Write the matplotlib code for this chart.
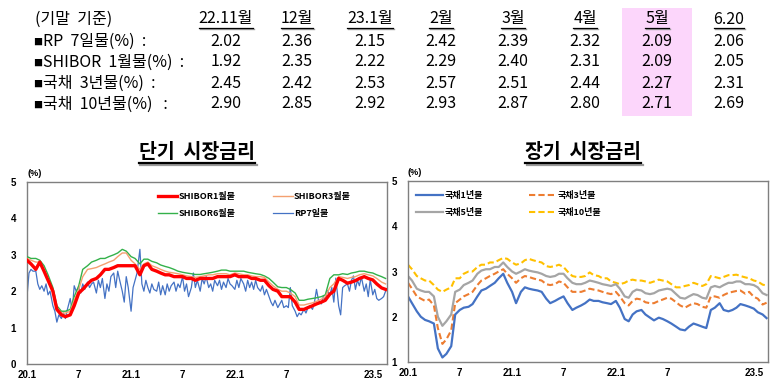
import matplotlib
matplotlib.use('Agg')
import matplotlib.pyplot as plt
from matplotlib.lines import Line2D
from matplotlib.patches import Rectangle
import pandas as pd

KFONT = ['Noto Sans CJK KR', 'DejaVu Sans']

# ----------------------------------------------------------------------------
# table data
# ----------------------------------------------------------------------------
col_labels = ['22.11월', '12월', '23.1월', '2월', '3월', '4월', '5월', '6.20']
row_labels = ['RP  7일물(%)  :', 'SHIBOR  1월물(%)  :', '국채  3년물(%)  :', '국채  10년물(%)   :']
table_vals = [
    ['2.02', '2.36', '2.15', '2.42', '2.39', '2.32', '2.09', '2.06'],
    ['1.92', '2.35', '2.22', '2.29', '2.40', '2.31', '2.09', '2.05'],
    ['2.45', '2.42', '2.53', '2.57', '2.51', '2.44', '2.27', '2.31'],
    ['2.90', '2.85', '2.92', '2.93', '2.87', '2.80', '2.71', '2.69'],
]

# ----------------------------------------------------------------------------
# chart data (semi-monthly, 1st and 15th, 2020.1 ~ 2023.6)
# ----------------------------------------------------------------------------
semi_dates = pd.date_range('2020-01-01', periods=84, freq='SMS')

shibor1m = [2.85, 2.75, 2.6, 2.8, 2.55, 2.3, 2.0, 1.5, 1.35, 1.3, 1.35, 1.6,
            1.95, 2.05, 2.2, 2.3, 2.35, 2.45, 2.6, 2.6, 2.65, 2.7, 2.7, 2.7,
            2.7, 2.7, 2.45, 2.7, 2.75, 2.6, 2.55, 2.5, 2.45, 2.45, 2.4, 2.4,
            2.4, 2.35, 2.35, 2.3, 2.35, 2.35, 2.35, 2.35, 2.4, 2.4, 2.4, 2.4,
            2.45, 2.4, 2.4, 2.4, 2.35, 2.35, 2.3, 2.3, 2.15, 2.05, 2.0, 1.85,
            1.85, 1.85, 1.7, 1.5, 1.5, 1.55, 1.6, 1.65, 1.7, 1.75, 1.92, 2.0,
            2.35, 2.3, 2.22, 2.25, 2.29, 2.35, 2.40, 2.35, 2.31, 2.2, 2.09, 2.05]
shibor3m = [2.9, 2.85, 2.8, 2.8, 2.6, 2.35, 2.0, 1.55, 1.4, 1.4, 1.45, 1.75,
            2.05, 2.4, 2.6, 2.62, 2.65, 2.7, 2.75, 2.8, 2.85, 2.95, 3.05, 3.05,
            2.85, 2.75, 2.6, 2.75, 2.8, 2.7, 2.65, 2.6, 2.55, 2.52, 2.5, 2.48,
            2.45, 2.42, 2.4, 2.38, 2.4, 2.42, 2.45, 2.45, 2.48, 2.48, 2.48, 2.45,
            2.5, 2.48, 2.45, 2.45, 2.42, 2.4, 2.4, 2.38, 2.25, 2.15, 2.05, 2.0,
            2.0, 1.95, 1.85, 1.62, 1.62, 1.65, 1.68, 1.72, 1.78, 1.85, 2.1, 2.2,
            2.4, 2.38, 2.35, 2.38, 2.4, 2.45, 2.48, 2.45, 2.42, 2.35, 2.25, 2.2]
shibor6m = [2.95, 2.9, 2.9, 2.85, 2.7, 2.45, 2.1, 1.6, 1.45, 1.45, 1.5, 1.85,
            2.15, 2.6, 2.7, 2.8, 2.85, 2.9, 2.9, 2.95, 3.0, 3.05, 3.15, 3.1,
            2.95, 2.9, 2.75, 2.88, 2.88, 2.82, 2.78, 2.72, 2.68, 2.65, 2.6, 2.55,
            2.52, 2.5, 2.48, 2.46, 2.46, 2.48, 2.5, 2.52, 2.55, 2.58, 2.58, 2.55,
            2.55, 2.55, 2.55, 2.52, 2.5, 2.48, 2.46, 2.42, 2.35, 2.25, 2.12, 2.1,
            2.1, 2.05, 1.95, 1.75, 1.75, 1.78, 1.8, 1.82, 1.85, 1.9, 2.35, 2.45,
            2.45, 2.48, 2.46, 2.5, 2.52, 2.55, 2.55, 2.52, 2.5, 2.45, 2.4, 2.35]

# RP 7-day: 1st, 8th, 15th, 22nd of each month
rp_dates = [pd.Timestamp(y, m, d) for y in range(2020, 2024) for m in range(1, 13)
            for d in (1, 8, 15, 22) if pd.Timestamp(y, m, d) <= pd.Timestamp('2023-06-20')]
rp7d = [1.85, 2.5, 2.6, 2.55, 2.55, 2.2, 2.05, 2.15, 2.0, 2.2, 1.9, 2.0,
        1.6, 1.45, 1.15, 1.35, 1.25, 1.4, 1.25, 1.5, 1.8, 1.45, 2.15, 2.0,
        2.1, 1.95, 2.2, 2.05, 2.25, 2.1, 2.2, 2.25, 1.95, 2.3, 2.1, 2.35,
        1.8, 2.2, 2.0, 2.4, 2.5, 2.1, 2.55, 2.3, 2.0, 1.7, 2.4, 2.1,
        1.45, 2.1, 2.3, 2.5, 3.15, 2.2, 2.0, 2.3, 2.1, 1.95, 2.2, 2.05,
        2.0, 2.25, 1.9, 2.15, 1.9, 2.2, 2.0, 2.15, 2.25, 2.0, 2.2, 2.1,
        2.4, 2.0, 2.2, 1.85, 2.1, 2.5, 2.1, 2.3, 2.0, 2.35, 2.2, 2.4,
        2.1, 2.2, 2.0, 2.3, 2.15, 2.3, 2.05, 2.25, 2.1, 2.35, 2.2, 2.15,
        2.05, 2.3, 2.1, 2.35, 2.2, 2.0, 2.3, 2.1, 2.25, 2.05, 2.3, 2.1,
        2.0, 2.15, 1.9, 2.05, 1.85, 1.7, 1.6, 1.75, 1.55, 1.65, 1.75, 1.55,
        1.6, 1.55, 2.1, 1.6, 1.45, 1.3, 1.4, 1.35, 1.5, 1.4, 1.55, 1.6,
        1.5, 1.7, 2.05, 1.75, 1.65, 1.85, 1.75, 2.02, 1.9, 2.1, 1.7, 2.36,
        1.6, 1.35, 2.1, 2.15, 2.2, 2.0, 2.3, 2.42, 2.05, 2.3, 2.15, 2.39,
        2.0, 2.2, 1.85, 2.32, 1.9, 2.05, 1.8, 1.75, 1.8, 1.85, 2.0]

ktb1y = [2.45, 2.3, 2.12, 2.0, 1.93, 1.9, 1.85, 1.3, 1.1, 1.18, 1.35, 2.05,
         2.15, 2.2, 2.22, 2.28, 2.45, 2.58, 2.62, 2.68, 2.75, 2.85, 2.95, 2.75,
         2.55, 2.3, 2.55, 2.65, 2.62, 2.6, 2.58, 2.55, 2.4, 2.3, 2.35, 2.4,
         2.45, 2.3, 2.15, 2.2, 2.25, 2.3, 2.38, 2.35, 2.35, 2.32, 2.3, 2.28,
         2.35, 2.2, 1.95, 1.9, 2.05, 2.12, 2.15, 2.05, 1.98, 1.92, 1.98, 1.95,
         1.9, 1.85, 1.78, 1.72, 1.7, 1.78, 1.85, 1.82, 1.78, 1.75, 2.15, 2.2,
         2.3, 2.15, 2.12, 2.15, 2.2, 2.28, 2.25, 2.22, 2.18, 2.1, 2.05, 1.97]
ktb3y = [2.75, 2.62, 2.45, 2.4, 2.35, 2.38, 2.25, 1.75, 1.4, 1.5, 1.7, 2.3,
         2.38, 2.45, 2.5, 2.55, 2.7, 2.8, 2.85, 2.9, 2.95, 3.0, 3.05, 2.95,
         2.85, 2.75, 2.85, 2.9, 2.88, 2.85, 2.82, 2.8, 2.72, 2.7, 2.72, 2.78,
         2.75, 2.65, 2.55, 2.55, 2.55, 2.58, 2.62, 2.6, 2.58, 2.55, 2.52, 2.5,
         2.55, 2.45, 2.3, 2.25, 2.35, 2.4, 2.38, 2.32, 2.3, 2.3, 2.35, 2.38,
         2.42, 2.4, 2.32, 2.25, 2.2, 2.25, 2.3, 2.28, 2.22, 2.2, 2.45, 2.45,
         2.42, 2.48, 2.53, 2.55, 2.57, 2.58, 2.51, 2.55, 2.44, 2.4, 2.27, 2.31]
ktb5y = [2.9, 2.8, 2.62, 2.58, 2.55, 2.55, 2.45, 2.0, 1.8, 1.9, 2.05, 2.55,
         2.6, 2.7, 2.75, 2.8, 2.95, 3.02, 3.05, 3.05, 3.1, 3.1, 3.2, 3.1,
         3.0, 2.95, 3.0, 3.05, 3.02, 3.0, 2.98, 2.95, 2.9, 2.88, 2.9, 2.95,
         2.95, 2.85, 2.75, 2.72, 2.72, 2.75, 2.8, 2.78, 2.75, 2.72, 2.7, 2.68,
         2.72, 2.62, 2.45, 2.42, 2.55, 2.6, 2.58, 2.52, 2.5, 2.52, 2.58, 2.6,
         2.62, 2.6, 2.5, 2.42, 2.4, 2.45, 2.5, 2.48, 2.42, 2.4, 2.65, 2.68,
         2.65, 2.7, 2.75, 2.75, 2.78, 2.78, 2.72, 2.72, 2.7, 2.65, 2.52, 2.48]
ktb10y = [3.15, 3.05, 2.9, 2.85, 2.8, 2.8, 2.7, 2.6, 2.55, 2.6, 2.65, 2.85,
          2.85, 2.95, 3.0, 3.0, 3.1, 3.15, 3.15, 3.2, 3.2, 3.25, 3.3, 3.28,
          3.2, 3.15, 3.18, 3.25, 3.28, 3.25, 3.22, 3.2, 3.12, 3.1, 3.12, 3.15,
          3.1, 3.0, 2.9, 2.88, 2.88, 2.9, 2.98, 2.92, 2.9, 2.85, 2.85, 2.78,
          2.75, 2.72, 2.75, 2.8, 2.82, 2.8, 2.8, 2.78, 2.75, 2.78, 2.82, 2.8,
          2.78, 2.72, 2.65, 2.65, 2.68, 2.7, 2.75, 2.72, 2.68, 2.72, 2.90, 2.88,
          2.85, 2.88, 2.92, 2.92, 2.93, 2.9, 2.87, 2.85, 2.80, 2.78, 2.71, 2.69]

tick_dates = ['2020-01-01', '2020-07-01', '2021-01-01', '2021-07-01',
              '2022-01-01', '2022-07-01', '2023-05-01']
tick_labels = ['20.1', '7', '21.1', '7', '22.1', '7', '23.5']

# ----------------------------------------------------------------------------
W, H = 783, 383
fig = plt.figure(figsize=(W / 100, H / 100), dpi=100)
fig.patch.set_facecolor('white')


def fx(px):
    return px / W


def fy(py):
    return 1 - py / H


def hline(x0, x1, y, color='black', lw=1.0):
    fig.add_artist(Line2D([fx(x0), fx(x1)], [fy(y), fy(y)], color=color,
                          lw=lw, transform=fig.transFigure))


# pink highlight behind the 5월 column
fig.add_artist(Rectangle((fx(622), fy(116)), fx(70), 108 / H,
                         transform=fig.transFigure, facecolor='#fcd6fb',
                         edgecolor='none', zorder=0))

# ---- table ----
col_x = [226, 297, 370, 441, 513, 585, 657, 729]
row_y = [41, 62, 83, 104]
fs_tab = 11.5
renderer = fig.canvas.get_renderer()

fig.text(fx(35), fy(19), '(기말  기준)', fontsize=fs_tab, family=KFONT,
         ha='left', va='center')
for cx, lab in zip(col_x, col_labels):
    t = fig.text(fx(cx), fy(19), lab, fontsize=fs_tab, family=KFONT,
                 ha='center', va='center')
    bb = t.get_window_extent(renderer)
    hline(bb.x0 + 1, bb.x1 + 1, 29.2, color='#a0a0a0', lw=1.0)
    hline(bb.x0, bb.x1, 28.2, lw=0.9)
for ry, lab, vals in zip(row_y, row_labels, table_vals):
    fig.text(fx(38), fy(ry + 1), '■', fontsize=6.5, family=KFONT,
             ha='center', va='center')
    fig.text(fx(43), fy(ry), lab, fontsize=fs_tab, family=KFONT,
             ha='left', va='center')
    for cx, v in zip(col_x, vals):
        fig.text(fx(cx), fy(ry), v, fontsize=fs_tab, family=KFONT,
                 ha='center', va='center')

# ---- chart titles ----
for cx, title in [(197, '단기  시장금리'), (583, '장기  시장금리')]:
    t = fig.text(fx(cx), fy(153), title, fontsize=14, weight='bold',
                 family=KFONT, ha='center', va='center')
    bb = t.get_window_extent(renderer)
    hline(bb.x0 + 1.5, bb.x1 + 1.5, 164.5, color='#9a9a9a', lw=1.6)
    hline(bb.x0, bb.x1, 163, color='black', lw=1.6)

# ---- axes ----
ax1 = fig.add_axes([fx(27), fy(364), 360 / W, 182 / H])
ax2 = fig.add_axes([fx(408), fy(362), 360 / W, 181 / H])

ax1.plot(rp_dates, rp7d, color='#4472c4', lw=0.9, label='RP7일물', zorder=2)
ax1.plot(semi_dates, shibor6m, color='#33b14a', lw=1.0, label='SHIBOR6월물', zorder=3)
ax1.plot(semi_dates, shibor3m, color='#f4a070', lw=1.0, label='SHIBOR3월물', zorder=3)
ax1.plot(semi_dates, shibor1m, color='#ff0000', lw=2.4, label='SHIBOR1월물', zorder=4)

ax2.plot(semi_dates, ktb10y, color='#ffc000', lw=1.5, ls=(0, (3, 1.5)), label='국채10년물')
ax2.plot(semi_dates, ktb5y, color='#a5a5a5', lw=1.6, label='국채5년물')
ax2.plot(semi_dates, ktb3y, color='#ed7d31', lw=1.5, ls=(0, (3, 1.5)), label='국채3년물')
ax2.plot(semi_dates, ktb1y, color='#4472c4', lw=1.6, label='국채1년물')

ax1.set_ylim(0, 5)
ax1.set_yticks(range(0, 6))
ax2.set_ylim(1, 5)
ax2.set_yticks(range(1, 6))

for ax in (ax1, ax2):
    ax.set_xlim(pd.Timestamp('2020-01-01'), pd.Timestamp('2023-06-20'))
    ax.set_xticks(pd.to_datetime(tick_dates))
    ax.set_xticklabels(tick_labels)
    ax.tick_params(axis='both', length=0, labelsize=7, colors='black')
    ax.tick_params(axis='y', pad=8)
    ax.tick_params(axis='x', pad=4)
    for lab in ax.get_xticklabels() + ax.get_yticklabels():
        lab.set_fontweight('bold')
        lab.set_family('Liberation Sans')
    for sp in ax.spines.values():
        sp.set_color('#7f7f7f')
        sp.set_linewidth(1.0)
    ax.text(0.0, 1.045, '(%)', transform=ax.transAxes, fontsize=6.5,
            weight='bold', family='Liberation Sans', ha='left', va='center')

h1, l1 = ax1.get_legend_handles_labels()
d1 = dict(zip(l1, h1))
order1 = ['SHIBOR1월물', 'SHIBOR6월물', 'SHIBOR3월물', 'RP7일물']
ax1.legend([d1[k] for k in order1], order1, loc='upper left',
           bbox_to_anchor=(0.34, 0.99), ncol=2, frameon=False,
           prop={'family': KFONT, 'size': 6.5, 'weight': 'bold'},
           handlelength=2.2, handletextpad=0.1, columnspacing=4.2,
           labelspacing=0.9)

h2, l2 = ax2.get_legend_handles_labels()
d2 = dict(zip(l2, h2))
order2 = ['국채1년물', '국채5년물', '국채3년물', '국채10년물']
ax2.legend([d2[k] for k in order2], order2, loc='upper left',
           bbox_to_anchor=(0.0, 0.99), ncol=2, frameon=False,
           prop={'family': KFONT, 'size': 6.5, 'weight': 'bold'},
           handlelength=3.0, handletextpad=0.2, columnspacing=5.0,
           labelspacing=0.9)

fig.savefig('out.png', dpi=100, facecolor='white')
